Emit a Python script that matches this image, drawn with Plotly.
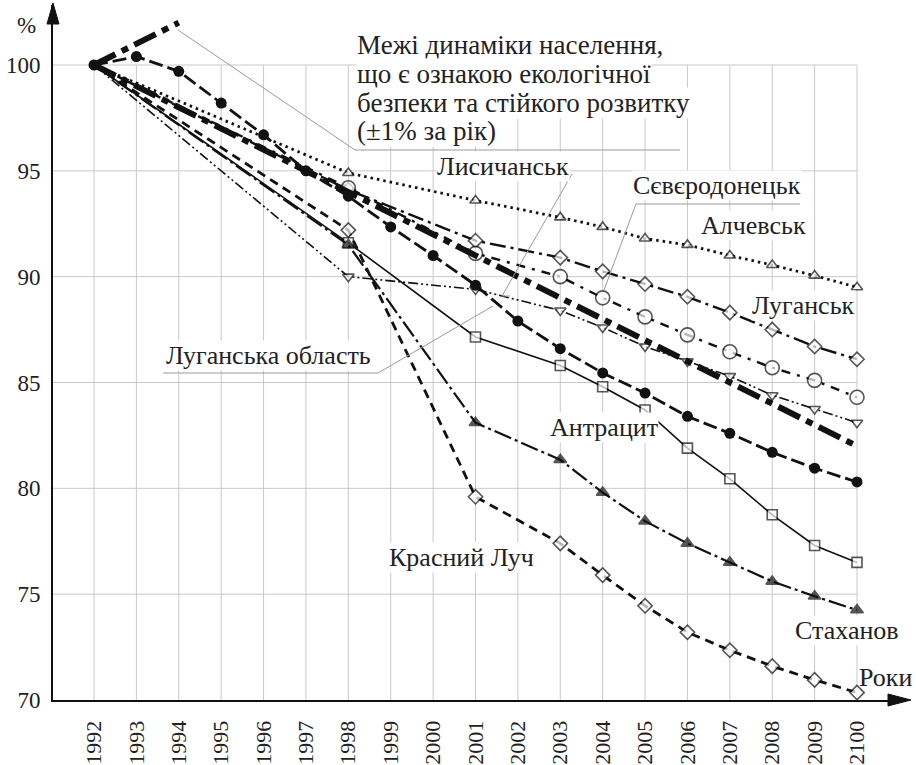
import plotly.graph_objects as go

N = None
years = ["1992", "1993", "1994", "1995", "1996", "1997", "1998", "1999", "2000",
         "2001", "2002", "2003", "2004", "2005", "2006", "2007", "2008", "2009", "2100"]

alchevsk = [100, N, N, N, N, N, 94.9, N, N, 93.6, N, 92.8, 92.35, 91.8, 91.5, 91.0, 90.55, 90.05, 89.5]
luhansk = [100, N, N, N, N, N, 94.1, N, N, 91.7, N, 90.9, 90.25, 89.65, 89.05, 88.3, 87.5, 86.7, 86.1]
sievierodonetsk = [100, N, N, N, N, N, 94.2, N, N, 91.1, N, 90.0, 89.0, 88.1, 87.25, 86.45, 85.7, 85.1, 84.3]
lysychansk = [100, N, N, N, N, N, 90.0, N, N, 89.4, N, 88.4, 87.6, 86.7, 86.0, 85.3, 84.4, 83.75, 83.1]
oblast = [100, 100.4, 99.7, 98.2, 96.7, 95.0, 93.8, 92.35, 91.0, 89.6, 87.9, 86.6, 85.45, 84.5, 83.4, 82.6, 81.7, 80.95, 80.3]
antratsyt = [100, N, N, N, N, N, 91.6, N, N, 87.15, N, 85.8, 84.8, 83.7, 81.9, 80.45, 78.75, 77.3, 76.5]
stakhanov = [100, N, N, N, N, N, 91.5, N, N, 83.1, N, 81.35, 79.8, 78.45, 77.4, 76.5, 75.6, 74.9, 74.25]
krasnyi_luch = [100, N, N, N, N, N, 92.2, N, N, 79.6, N, 77.4, 75.9, 74.45, 73.2, 72.35, 71.6, 70.95, 70.35]
bound_lower = [100, N, N, N, N, N, N, N, N, N, N, N, N, N, N, N, N, N, 82]
bound_upper = [100, N, 102, N, N, N, N, N, N, N, N, N, N, N, N, N, N, N, N]

y_ticks = [70, 75, 80, 85, 90, 95, 100]

FONT = "Liberation Serif, Times New Roman, serif"
BLACK = "#111111"
GRID = "#c9c9c9"

# plot area in pixels
L, R, T, B = 53, 905, 5, 700
W, H = 916, 765
X0_PX, X1_PX = 94, 857
Y100_PX, Y70_PX = 65, 700
px_per_cat = (X1_PX - X0_PX) / 18.0
x_lo = -(X0_PX - L) / px_per_cat
x_hi = 18 + (R - X1_PX) / px_per_cat
px_per_unit = (Y70_PX - Y100_PX) / 30.0
y_hi = 100 + (Y100_PX - T) / px_per_unit


def pp(x, y):
    return (x - L) / (R - L), (B - y) / (B - T)


fig = go.Figure()


def add(vals, dash, width, symbol, msize, filled=True, name=""):
    sizes = [0] + [msize] * (len(vals) - 1)
    fig.add_trace(go.Scatter(
        x=years, y=vals, mode="lines+markers", connectgaps=True, name=name,
        line=dict(color=BLACK, width=width, dash=dash),
        marker=dict(symbol=symbol, size=sizes, color="white" if not filled else BLACK,
                    line=dict(color=BLACK, width=1.6)),
    ))


add(alchevsk, "2.5px,4px", 2.8, "triangle-up", 10, filled=False, name="Алчевськ")
add(luhansk, "16px,5px,3px,5px", 2.4, "diamond", 11, filled=False, name="Луганськ")
add(sievierodonetsk, "9px,7px,3px,7px", 2.4, "circle", 14, filled=False, name="Сєвєродонецьк")
add(lysychansk, "10px,3px,2px,3px,2px,3px", 1.6, "triangle-down", 10, filled=False, name="Лисичанськ")
add(antratsyt, "solid", 1.6, "square", 10, filled=False, name="Антрацит")
add(stakhanov, "18px,4px,3px,4px", 2.2, "triangle-up", 11, filled=True, name="Стаханов")
add(krasnyi_luch, "9px,6px", 2.8, "diamond", 11, filled=False, name="Красний Луч")

fig.add_trace(go.Scatter(
    x=years, y=oblast, mode="lines+markers", connectgaps=True, name="Луганська область",
    line=dict(color=BLACK, width=2.8, dash="14px,5px"),
    marker=dict(symbol="circle", size=11, color=BLACK),
))
for b in (bound_lower, bound_upper):
    fig.add_trace(go.Scatter(
        x=years, y=b, mode="lines", connectgaps=True,
        line=dict(color=BLACK, width=6, dash="24px,7px,7px,7px"),
    ))

shapes = []
# grid
for i in range(19):
    shapes.append(dict(type="line", xref="x", yref="y", x0=i, x1=i, y0=70, y1=100,
                       line=dict(color=GRID, width=1), layer="below"))
for v in y_ticks[1:]:
    shapes.append(dict(type="line", xref="x", yref="y", x0=x_lo, x1=18, y0=v, y1=v,
                       line=dict(color=GRID, width=1), layer="below"))


def seg(pts, color="#9a9a9a", width=1):
    path = ""
    for k, (x, y) in enumerate(pts):
        a, b = pp(x, y)
        path += ("M" if k == 0 else "L") + f"{a:.5f},{b:.5f}"
    shapes.append(dict(type="path", xref="paper", yref="paper", path=path,
                       line=dict(color=color, width=width)))


# leader lines
seg([(178, 30), (355, 150), (680, 150)])
seg([(572, 174), (502, 296), (510, 296)])
seg([(800, 204), (636, 204), (604, 290)])
seg([(163, 373), (378, 373), (493, 306)])

# axis arrows
for pts in ([(47, 24), (59, 24), (53, 3)], [(888, 694), (888, 706), (911, 700)]):
    path = ""
    for k, (x, y) in enumerate(pts):
        a, b = pp(x, y)
        path += ("M" if k == 0 else "L") + f"{a:.5f},{b:.5f}"
    shapes.append(dict(type="path", xref="paper", yref="paper", path=path + "Z",
                       fillcolor=BLACK, line=dict(color=BLACK, width=1)))

annotations = []


def label(text, x, y, xanchor="left", size=26, bg="white"):
    a, b = pp(x, y)
    annotations.append(dict(text=text, x=a, y=b, xref="paper", yref="paper",
                            xanchor=xanchor, yanchor="middle", showarrow=False,
                            font=dict(family=FONT, size=size, color="#222222"),
                            bgcolor=bg, borderpad=0))


label("Межі динаміки населення,", 356, 45, size=27)
label("що є ознакою екологічної", 356, 74, size=27)
label("безпеки та стійкого розвитку", 356, 103, size=27)
label("(±1% за рік)", 356, 131, size=27)
label("Лисичанськ", 436, 166)
label("Сєвєродонецьк", 632, 185)
label("Алчевськ", 700, 225)
label("Луганськ", 751, 305)
label("Антрацит", 549, 428)
label("Красний Луч", 388, 557)
label("Стаханов", 794, 630)
label("Луганська область", 165, 355)
label("Роки", 858, 677, bg=None)
label("%", 16, 26, bg=None, size=23)

fig.update_layout(
    width=W, height=H,
    margin=dict(l=L, r=W - R, t=T, b=H - B, autoexpand=False),
    paper_bgcolor="white", plot_bgcolor="white",
    font=dict(family=FONT),
    showlegend=False,
    shapes=shapes, annotations=annotations,
    xaxis=dict(type="category", range=[x_lo, x_hi], showgrid=False, zeroline=False,
               showline=True, linecolor=BLACK, linewidth=2, tickangle=-90,
               ticks="", ticklabelstandoff=10, automargin=False,
               tickfont=dict(family=FONT, size=22, color="#222222")),
    yaxis=dict(range=[70, y_hi], showgrid=False, zeroline=False, tickvals=y_ticks,
               showline=True, linecolor=BLACK, linewidth=2, ticks="", ticklabelstandoff=6,
               automargin=False,
               tickfont=dict(family=FONT, size=23, color="#222222")),
)

fig.write_html("out.html", config={"displayModeBar": False},
               post_script="document.body.style.margin='0';document.body.style.padding='0';")
